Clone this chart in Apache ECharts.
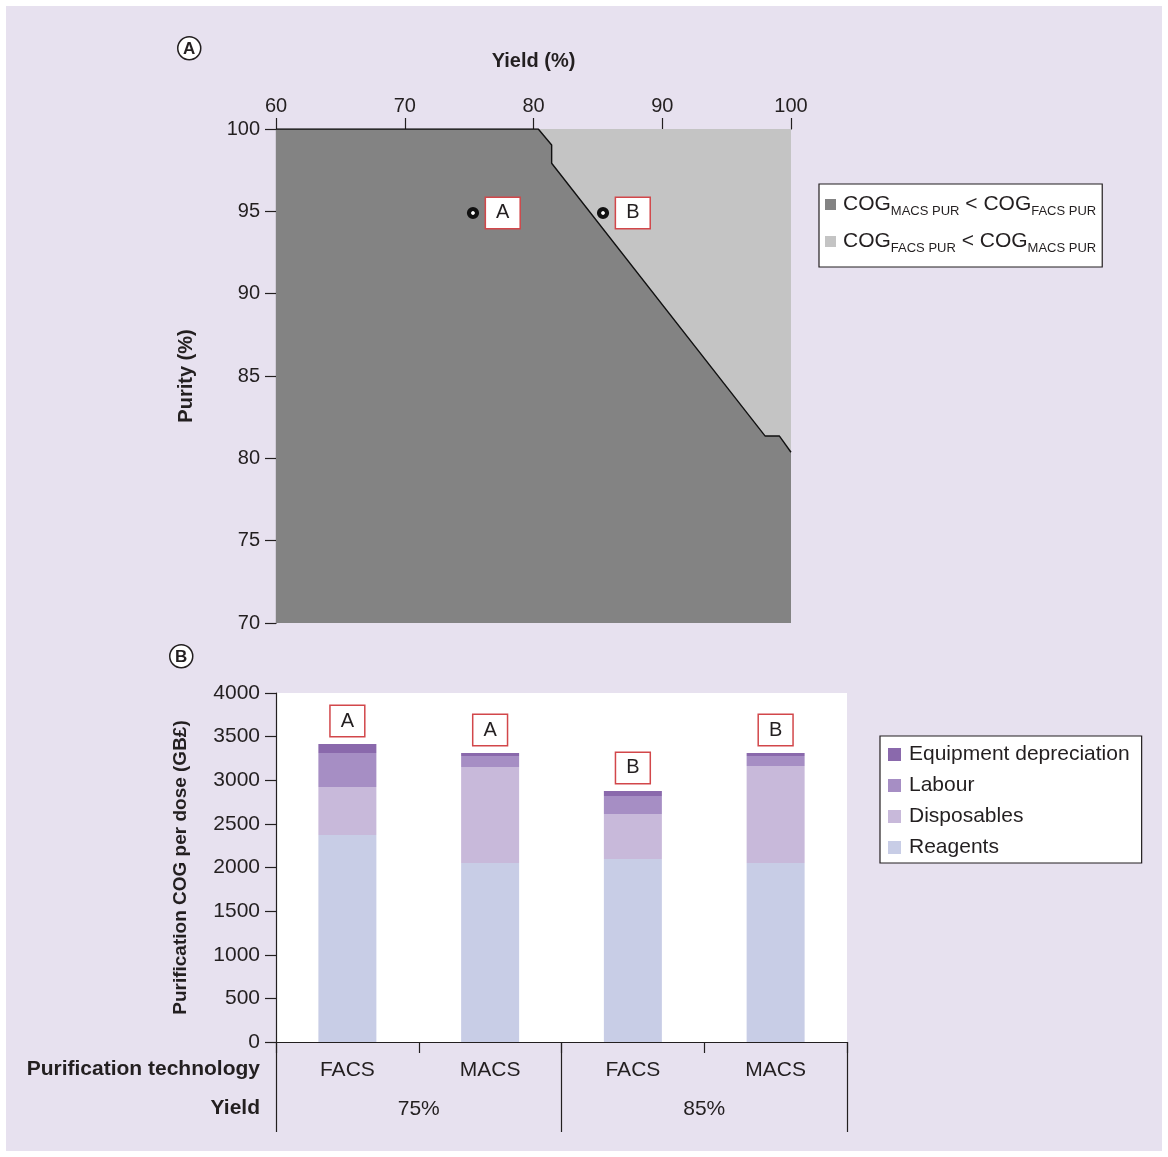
<!DOCTYPE html>
<html>
<head>
<meta charset="utf-8">
<script src="https://cdn.jsdelivr.net/npm/echarts@6/dist/echarts.min.js"></script>
<style>
  html, body { margin: 0; padding: 0; background: #fff; }
  #chart { width: 1168px; height: 1157px; background: #e7e1ef; box-shadow: inset 0 0 0 6px #fff; }
</style>
</head>
<body>
<div id="chart"></div>
<script>
// Panel A: yield/purity boundary where the two purification routes cost the same
const yieldTicks = [60, 70, 80, 90, 100];
const boundaryYield  = [60, 80.37, 81.41, 81.41, 97.98, 99.09, 100];
const boundaryPurity = [100, 100, 99.03, 97.92, 81.36, 81.36, 80.37];
const scenarioNames  = ['A', 'B'];
const scenarioYield  = [75.3, 85.4];
const scenarioPurity = [94.9, 94.9];

// Panel B: purification cost of goods per dose, stacked by cost category
const technologies = ['FACS', 'MACS', 'FACS', 'MACS'];
const yieldGroups  = ['75%', '85%'];
const barScenario  = ['A', 'A', 'B', 'B'];
const reagents     = [2372, 2052, 2097, 2052];
const disposables  = [551, 1100, 516, 1111];
const labour       = [389, 126, 206, 115];
const equipment    = [103, 34, 58, 34];

const FONT = 'Liberation Sans, Arial, sans-serif';
const INK = '#231f20';
const DARK = '#838383';
const LIGHT = '#c4c4c4';
const COST_COLORS = {
  'Equipment depreciation': '#8a69ac',
  'Labour': '#a68ec4',
  'Disposables': '#c8b9da',
  'Reagents': '#c8cde6'
};
const MACS_CHEAPER = 'macsCheaper';
const FACS_CHEAPER = 'facsCheaper';
const legendText = {
  macsCheaper: 'COG{s|MACS PUR}{b| < }COG{s|FACS PUR}',
  facsCheaper: 'COG{s|FACS PUR}{b| < }COG{s|MACS PUR}'
};

const boundary = boundaryYield.map((x, i) => [x, boundaryPurity[i]]);
const scenarios = scenarioNames.map((n, i) => ({ name: n, value: [scenarioYield[i], scenarioPurity[i]] }));

const axisBase = {
  axisLine: { show: true, lineStyle: { color: INK, width: 1.2 } },
  axisTick: { show: true, length: 11, lineStyle: { color: INK, width: 1.2 } },
  splitLine: { show: false },
  axisLabel: { color: INK, fontSize: 20, fontFamily: FONT },
  nameTextStyle: { color: INK, fontSize: 20, fontWeight: 'bold', fontFamily: FONT }
};

const boxLabel = {
  color: INK, fontSize: 20, fontFamily: FONT, lineHeight: 22, opacity: 1,
  backgroundColor: '#fff', borderColor: '#d2474a', borderWidth: 1.5,
  padding: [4, 10, 4, 10]
};

const chart = echarts.init(document.getElementById('chart'), null, { renderer: 'canvas' });

chart.setOption({
  animation: false,
  textStyle: { fontFamily: FONT },
  grid: [
    { left: 276, width: 515, top: 129, height: 494 },
    { left: 276, width: 571, top: 693, height: 349, show: true, backgroundColor: '#ffffff', borderWidth: 0 }
  ],
  xAxis: [
    Object.assign({}, axisBase, {
      gridIndex: 0, type: 'value', position: 'top', min: yieldTicks[0], max: yieldTicks[yieldTicks.length - 1], interval: 10,
      name: 'Yield (%)', nameLocation: 'middle', nameGap: 58,
      axisLabel: Object.assign({}, axisBase.axisLabel, { margin: 13 })
    }),
    Object.assign({}, axisBase, {
      gridIndex: 1, type: 'category', data: technologies, position: 'bottom',
      axisTick: { show: true, length: 11, alignWithLabel: false, lineStyle: { color: INK, width: 1.2 } },
      axisLabel: Object.assign({}, axisBase.axisLabel, { fontSize: 21, margin: 18 })
    }),
    {
      gridIndex: 1, type: 'category', data: yieldGroups, position: 'bottom', offset: 0,
      axisLine: { show: false },
      axisTick: { show: true, length: 90, alignWithLabel: false, lineStyle: { color: INK, width: 1.2 } },
      axisLabel: { color: INK, fontSize: 21, fontFamily: FONT, margin: 57 },
      splitLine: { show: false }
    }
  ],
  yAxis: [
    Object.assign({}, axisBase, {
      gridIndex: 0, type: 'value', min: 70, max: 100, interval: 5,
      name: 'Purity (%)', nameLocation: 'middle', nameGap: 80,
      axisLabel: Object.assign({}, axisBase.axisLabel, { margin: 16 })
    }),
    Object.assign({}, axisBase, {
      gridIndex: 1, type: 'value', min: 0, max: 4000, interval: 500,
      name: 'Purification COG per dose (GB£)', nameLocation: 'middle', nameGap: 86,
      nameTextStyle: { color: INK, fontSize: 19, fontWeight: 'bold', fontFamily: FONT },
      axisLabel: Object.assign({}, axisBase.axisLabel, { fontSize: 21, margin: 16, formatter: v => String(v) })
    })
  ],
  legend: [
    {
      data: [
        { name: MACS_CHEAPER, itemStyle: { color: DARK } },
        { name: FACS_CHEAPER, itemStyle: { color: LIGHT } }
      ],
      orient: 'vertical', left: 819, top: 184,
      backgroundColor: '#fff', borderColor: INK, borderWidth: 1.2,
      padding: [7, 6, 12, 6], itemGap: 10, itemWidth: 11, itemHeight: 11, icon: 'rect',
      selectedMode: false,
      formatter: n => legendText[n],
      textStyle: {
        color: INK, fontSize: 21, fontFamily: FONT, lineHeight: 27, padding: [0, 0, 0, 2],
        rich: {
          b: { fontSize: 21, color: INK, fontFamily: FONT },
          s: { fontSize: 13, color: INK, fontFamily: FONT, verticalAlign: 'bottom', lineHeight: 9 }
        }
      }
    },
    {
      data: ['Equipment depreciation', 'Labour', 'Disposables', 'Reagents'].map(n => ({ name: n, itemStyle: { color: COST_COLORS[n] } })),
      orient: 'vertical', left: 880, top: 736,
      backgroundColor: '#fff', borderColor: INK, borderWidth: 1.2,
      padding: [8, 12, 5, 8], itemGap: 10, itemWidth: 13, itemHeight: 13, icon: 'rect',
      selectedMode: false,
      textStyle: { color: INK, fontSize: 21, fontFamily: FONT, padding: [0, 0, 0, 3] }
    }
  ],
  series: [
    {
      name: MACS_CHEAPER, type: 'line', xAxisIndex: 0, yAxisIndex: 0,
      data: boundary, symbol: 'none', silent: true,
      itemStyle: { color: DARK },
      lineStyle: { color: DARK, width: 0 },
      areaStyle: { color: DARK, opacity: 1, origin: 'start' },
      z: 1
    },
    {
      name: FACS_CHEAPER, type: 'line', xAxisIndex: 0, yAxisIndex: 0,
      data: boundary, symbol: 'none', silent: true,
      itemStyle: { color: LIGHT },
      lineStyle: { color: LIGHT, width: 0 },
      areaStyle: { color: LIGHT, opacity: 1, origin: 'end' },
      z: 1
    },
    {
      name: 'boundary', type: 'line', xAxisIndex: 0, yAxisIndex: 0,
      data: boundary, symbol: 'none', silent: true,
      lineStyle: { color: '#111', width: 1.4 },
      z: 3
    },
    {
      name: 'scenarios', type: 'scatter', xAxisIndex: 0, yAxisIndex: 0,
      data: scenarios, symbol: 'circle', symbolSize: 8,
      itemStyle: { color: '#fff', borderColor: '#111', borderWidth: 4.2, opacity: 1 },
      label: Object.assign({ show: true, position: 'right', distance: 7, formatter: p => p.name }, boxLabel),
      z: 4
    },
    {
      name: 'Reagents', type: 'bar', stack: 'cog', xAxisIndex: 1, yAxisIndex: 1,
      data: reagents, barWidth: 58, itemStyle: { color: COST_COLORS['Reagents'] }
    },
    {
      name: 'Disposables', type: 'bar', stack: 'cog', xAxisIndex: 1, yAxisIndex: 1,
      data: disposables, barWidth: 58, itemStyle: { color: COST_COLORS['Disposables'] }
    },
    {
      name: 'Labour', type: 'bar', stack: 'cog', xAxisIndex: 1, yAxisIndex: 1,
      data: labour, barWidth: 58, itemStyle: { color: COST_COLORS['Labour'] }
    },
    {
      name: 'Equipment depreciation', type: 'bar', stack: 'cog', xAxisIndex: 1, yAxisIndex: 1,
      data: equipment, barWidth: 58, itemStyle: { color: COST_COLORS['Equipment depreciation'] },
      label: Object.assign({ show: true, position: 'top', distance: 8, formatter: p => barScenario[p.dataIndex] }, boxLabel)
    }
  ],
  graphic: [
    {
      type: 'group', left: 177, top: 36,
      children: [
        { type: 'circle', shape: { cx: 12, cy: 12, r: 11.5 }, style: { fill: '#fff', stroke: INK, lineWidth: 1.5 } },
        { type: 'text', x: 12, y: 13, style: { text: 'A', fill: INK, font: 'bold 17px ' + FONT, align: 'center', verticalAlign: 'middle' } }
      ]
    },
    {
      type: 'group', left: 169, top: 644,
      children: [
        { type: 'circle', shape: { cx: 12, cy: 12, r: 11.5 }, style: { fill: '#fff', stroke: INK, lineWidth: 1.5 } },
        { type: 'text', x: 12, y: 13, style: { text: 'B', fill: INK, font: 'bold 17px ' + FONT, align: 'center', verticalAlign: 'middle' } }
      ]
    },
    {
      type: 'text', x: 260, y: 1069,
      style: { text: 'Purification technology', fill: INK, font: 'bold 21px ' + FONT, align: 'right', verticalAlign: 'middle' }
    },
    {
      type: 'text', x: 260, y: 1108,
      style: { text: 'Yield', fill: INK, font: 'bold 21px ' + FONT, align: 'right', verticalAlign: 'middle' }
    }
  ]
});
</script>
</body>
</html>
